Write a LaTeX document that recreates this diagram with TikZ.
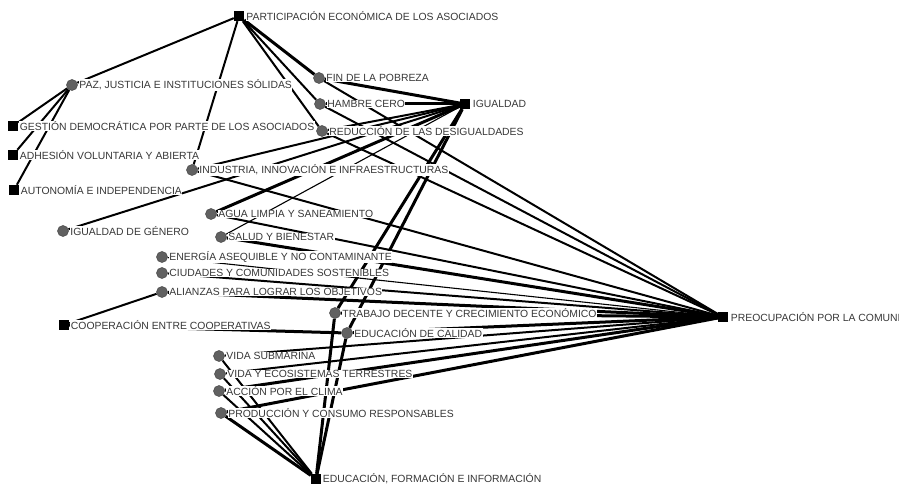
\documentclass[tikz,border=0pt]{standalone}
\usepackage{fontspec}
\setmainfont{Liberation Sans}
\pgfdeclarelayer{edges}
\pgfsetlayers{edges,main}
\begin{document}
\begin{tikzpicture}[x=1pt,y=-1pt,
  sq/.style={rectangle,fill=black,minimum size=10pt,inner sep=0pt},
  ci/.style={circle,fill=black!62,draw=black!72,line width=0.5pt,minimum size=11pt,inner sep=0pt},
  lab/.style={anchor=west,font=\fontsize{10.4}{11}\selectfont,text=black!78,fill=white,inner sep=0.5pt},
  ea/.style={line width=1.1pt},
  eb/.style={line width=2pt},
  ec/.style={line width=3pt}]
\useasboundingbox (0,0) rectangle (899,486);
% principles (squares)
\node[sq] (pea) at (239,16) {};
\node[sq] (ig) at (465,104) {};
\node[sq] (gd) at (13,126) {};
\node[sq] (av) at (13,155) {};
\node[sq] (ai) at (14,190) {};
\node[sq] (cc) at (64,325) {};
\node[sq] (pc) at (723,317) {};
\node[sq] (ef) at (316,479) {};
% goals (circles)
\node[ci] (paz) at (72,85) {};
\node[ci] (fin) at (319,78) {};
\node[ci] (ham) at (320,104) {};
\node[ci] (red) at (322,131) {};
\node[ci] (ind) at (192,170) {};
\node[ci] (agu) at (211,214) {};
\node[ci] (igg) at (63,231) {};
\node[ci] (sal) at (221,237) {};
\node[ci] (ene) at (162,257) {};
\node[ci] (ciu) at (162,273) {};
\node[ci] (ali) at (162,292) {};
\node[ci] (tra) at (335,313) {};
\node[ci] (edc) at (347,333) {};
\node[ci] (vsu) at (219,356) {};
\node[ci] (vec) at (220,374) {};
\node[ci] (acc) at (219,391) {};
\node[ci] (pro) at (221,413) {};
% edges
\begin{pgfonlayer}{edges}
\draw[eb] (pea) -- (paz);
\draw[eb] (pea) -- (ind);
\draw[ec] (pea) -- (fin);
\draw[eb] (pea) -- (ham);
\draw[eb] (pea) -- (red);
\draw[eb] (paz) -- (gd);
\draw[eb] (paz) -- (av);
\draw[eb] (paz) -- (ai);
\draw[ec] (fin) -- (ig);
\draw[eb] (fin) -- (pc);
\draw[ec] (ham) -- (ig);
\draw[eb] (ham) -- (pc);
\draw[eb] (red) -- (ig);
\draw[eb] (red) -- (pc);
\draw[eb] (ind) -- (ig);
\draw[eb] (ind) -- (pc);
\draw[eb] (igg) -- (ig);
\draw[ec] (agu) -- (ig);
\draw[eb] (agu) -- (pc);
\draw[ea] (sal) -- (ig);
\draw[ec] (sal) -- (pc);
\draw[ea] (ene) -- (pc);
\draw[eb] (ciu) -- (pc);
\draw[ec] (ali) -- (pc);
\draw[eb] (cc) -- (ali);
\draw[ec] (cc) -- (edc);
\draw[ec] (tra) -- (pc);
\draw[ec] (edc) -- (pc);
\draw[ec] (tra) -- (ig);
\draw[ec] (edc) -- (ig);
\draw[ec] (tra) -- (ef);
\draw[ec] (edc) -- (ef);
\draw[eb] (vsu) -- (pc);
\draw[eb] (vec) -- (pc);
\draw[ec] (acc) -- (pc);
\draw[ec] (pro) -- (pc);
\draw[eb] (vsu) -- (ef);
\draw[eb] (vec) -- (ef);
\draw[eb] (acc) -- (ef);
\draw[ec] (pro) -- (ef);
\end{pgfonlayer}
% labels
\node[lab] (pea-l) at ([xshift=1.5pt]pea.east) {PARTICIPACIÓN ECONÓMICA DE LOS ASOCIADOS};
\node[lab] (ig-l) at ([xshift=2pt]ig.east) {IGUALDAD};
\node[lab] (gd-l) at ([xshift=1pt]gd.east) {GESTIÓN DEMOCRÁTICA POR PARTE DE LOS ASOCIADOS};
\node[lab] (av-l) at ([xshift=1pt]av.east) {ADHESIÓN VOLUNTARIA Y ABIERTA};
\node[lab] (ai-l) at ([xshift=1pt]ai.east) {AUTONOMÍA E INDEPENDENCIA};
\node[lab] (cc-l) at ([xshift=1pt]cc.east) {COOPERACIÓN ENTRE COOPERATIVAS};
\node[lab] (pc-l) at ([xshift=2pt]pc.east) {PREOCUPACIÓN POR LA COMUNI};
\node[lab] (ef-l) at ([xshift=1pt]ef.east) {EDUCACIÓN, FORMACIÓN E INFORMACIÓN};
\node[lab] (paz-l) at ([xshift=1pt]paz.east) {PAZ, JUSTICIA E INSTITUCIONES SÓLIDAS};
\node[lab] (fin-l) at ([xshift=1pt]fin.east) {FIN DE LA POBREZA};
\node[lab] (ham-l) at ([xshift=1pt]ham.east) {HAMBRE CERO};
\node[lab] (red-l) at ([xshift=1pt]red.east) {REDUCCIÓN DE LAS DESIGUALDADES};
\node[lab] (ind-l) at ([xshift=1pt]ind.east) {INDUSTRIA, INNOVACIÓN E INFRAESTRUCTURAS};
\node[lab] (agu-l) at ([xshift=1pt]agu.east) {AGUA LIMPIA Y SANEAMIENTO};
\node[lab] (igg-l) at ([xshift=1pt]igg.east) {IGUALDAD DE GÉNERO};
\node[lab] (sal-l) at ([xshift=1pt]sal.east) {SALUD Y BIENESTAR};
\node[lab] (ene-l) at ([xshift=1pt]ene.east) {ENERGÍA ASEQUIBLE Y NO CONTAMINANTE};
\node[lab] (ciu-l) at ([xshift=1pt]ciu.east) {CIUDADES Y COMUNIDADES SOSTENIBLES};
\node[lab] (ali-l) at ([xshift=1pt]ali.east) {ALIANZAS PARA LOGRAR LOS OBJETIVOS};
\node[lab] (tra-l) at ([xshift=1pt]tra.east) {TRABAJO DECENTE Y CRECIMIENTO ECONÓMICO};
\node[lab] (edc-l) at ([xshift=1pt]edc.east) {EDUCACIÓN DE CALIDAD};
\node[lab] (vsu-l) at ([xshift=1pt]vsu.east) {VIDA SUBMARINA};
\node[lab] (vec-l) at ([xshift=1pt]vec.east) {VIDA Y ECOSISTEMAS TERRESTRES};
\node[lab] (acc-l) at ([xshift=1pt]acc.east) {ACCIÓN POR EL CLIMA};
\node[lab] (pro-l) at ([xshift=1pt]pro.east) {PRODUCCIÓN Y CONSUMO RESPONSABLES};
\end{tikzpicture}
\end{document}
